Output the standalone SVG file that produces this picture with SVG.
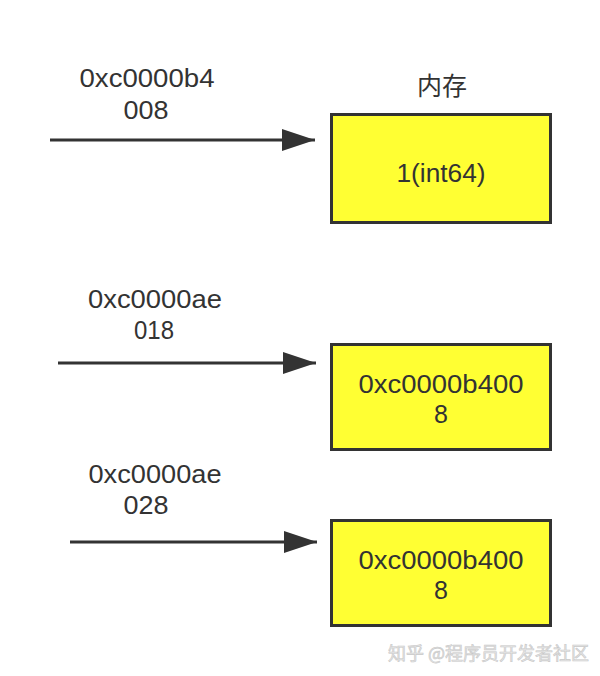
<svg xmlns="http://www.w3.org/2000/svg" width="600" height="676" viewBox="0 0 600 676">
<defs>
<style>
.t{font-family:"Liberation Sans","Noto Sans CJK SC",Arial,sans-serif;font-size:25px;fill:#333;text-anchor:middle}
.box{fill:#ffff33;stroke:#333;stroke-width:3}
.ln{stroke:#333;stroke-width:3;fill:none}
.wm{font-family:"Noto Sans CJK SC",sans-serif;font-size:18px;fill:#e6e6e6;stroke:#c8c8c8;stroke-width:0.6}
</style>
<marker id="ah" markerUnits="userSpaceOnUse" markerWidth="34" markerHeight="24" refX="33" refY="11" orient="auto">
<path d="M0,0 L33,11 L0,22 Z" fill="#333"/>
</marker>
</defs>
<rect width="600" height="676" fill="#fff"/>
<g id="connectors">
<line class="ln" x1="50" y1="140" x2="315" y2="140" marker-end="url(#ah)"/>
<line class="ln" x1="58" y1="363" x2="316" y2="363" marker-end="url(#ah)"/>
<line class="ln" x1="70" y1="542" x2="317" y2="542" marker-end="url(#ah)"/>
</g>
<g id="label1">
<text class="t" x="147" y="87" textLength="135" lengthAdjust="spacingAndGlyphs">0xc0000b4</text>
<text class="t" x="146" y="119" textLength="45" lengthAdjust="spacingAndGlyphs">008</text>
</g>
<g id="label2">
<text class="t" x="155" y="308" textLength="134" lengthAdjust="spacingAndGlyphs">0xc0000ae</text>
<text class="t" x="154" y="339" textLength="40" lengthAdjust="spacingAndGlyphs">018</text>
</g>
<g id="label3">
<text class="t" x="155" y="483" textLength="133" lengthAdjust="spacingAndGlyphs">0xc0000ae</text>
<text class="t" x="146" y="514" textLength="45" lengthAdjust="spacingAndGlyphs">028</text>
</g>
<g id="title">
<text class="t" x="442" y="95">内存</text>
</g>
<g id="box1">
<rect class="box" x="331.5" y="114.5" width="219" height="108"/>
<text class="t" x="441" y="182" textLength="89" lengthAdjust="spacingAndGlyphs">1(int64)</text>
</g>
<g id="box2">
<rect class="box" x="331.5" y="344.5" width="219" height="105"/>
<text class="t" x="441" y="393" textLength="165" lengthAdjust="spacingAndGlyphs">0xc0000b400</text>
<text class="t" x="441" y="423">8</text>
</g>
<g id="box3">
<rect class="box" x="331.5" y="520.5" width="219" height="105"/>
<text class="t" x="441" y="569" textLength="165" lengthAdjust="spacingAndGlyphs">0xc0000b400</text>
<text class="t" x="441" y="599">8</text>
</g>
<g id="watermark">
<text class="wm" x="388" y="660">知乎 @程序员开发者社区</text>
</g>
</svg>
